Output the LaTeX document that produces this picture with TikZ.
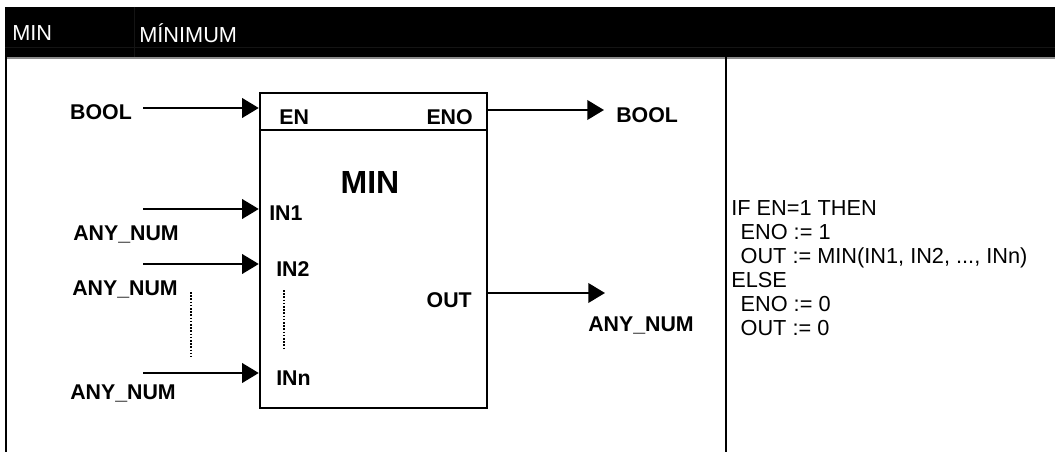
\documentclass[tikz,border=0pt]{standalone}
\usepackage{fontspec}
\setmainfont{Liberation Sans}
\usetikzlibrary{arrows.meta,positioning}
\definecolor{RuleGray}{HTML}{8C8C8C}
\definecolor{CellLine}{HTML}{141414}
\tikzset{
  lbl/.style={inner sep=0pt, font=\fontsize{16}{18}\selectfont\bfseries},
  hdr/.style={inner sep=0pt, anchor=west, text=white, font=\fontsize{16.3}{18}\selectfont},
  code/.style={inner sep=0pt, anchor=north west, align=left, font=\fontsize{16.3}{18}\selectfont},
  fblock/.style={draw, line width=1.8pt, minimum width=170.25pt, minimum height=236.25pt, inner sep=0pt},
  arr/.style={-{Triangle[length=12.5pt,width=14.5pt]}, line width=2pt},
  dots/.style={line width=1.6pt, dash pattern=on 1.2pt off 1.2pt},
  frame/.style={line width=1.6pt}
}

\begin{document}
\begin{tikzpicture}[x=0.75pt,y=-0.75pt]
\useasboundingbox (0,0) rectangle (1055,452);
% header bar
\fill[black] (5,7) rectangle (1055,57);
\draw[CellLine, line width=0.6pt] (5,47) -- (1055,47);
\draw[CellLine, line width=0.6pt] (134,7) -- (134,57);
\draw[RuleGray, line width=1.2pt] (5,58) -- (1055,58);
\node[hdr] (hname) at (12,33) {MIN};
\node[hdr] (htitle) at (139,33) {MÍNIMUM};
\draw[frame] (6,57) -- (6,452);
\draw[frame] (726,57) -- (726,452);

% function block
\node[fblock] (blk) at (373.5,250.5) {};
\draw[fblock] (blk.west |- 0,130) -- (blk.east |- 0,130);
\node[lbl, font=\fontsize{24}{26}\selectfont\bfseries] (fname) at (370,182) {MIN};
\node[lbl, anchor=west] (en) at (279,117) {EN};
\node[lbl, anchor=east] (eno) at (473,117) {ENO};
\node[lbl, anchor=west] (in1) at (269,213) {IN1};
\node[lbl, anchor=west] (in2) at (276,269) {IN2};
\node[lbl, anchor=west] (inn) at (276,378) {INn};
\node[lbl, anchor=east] (out) at (472,300) {OUT};
\draw[dots] (284,290) -- (284,348);

% inputs
\node[lbl] (boolin) at (101,112) {BOOL};
\coordinate (sEN) at (143,108);
\draw[arr] (sEN) -- (sEN -| blk.west);
\foreach \y/\n in {209/1,264/2,373/3}{
  \coordinate (s\n) at (143,\y);
  \draw[arr] (s\n) -- (s\n -| blk.west);
}
\node[lbl] (num1) at (126,234) {ANY\_NUM};
\node[lbl] (num2) at (125,289) {ANY\_NUM};
\node[lbl] (num3) at (123,393) {ANY\_NUM};
\draw[dots] (191,292) -- (191,357);

% outputs
\coordinate (tENO) at (604,110);
\coordinate (tOUT) at (605,293);
\draw[arr] (tENO -| blk.east) -- (tENO);
\draw[arr] (tOUT -| blk.east) -- (tOUT);
\node[lbl, anchor=west] (boolout) at (616,115) {BOOL};
\node[lbl] (numout) at (641,325) {ANY\_NUM};

% behaviour
\node[code] (st) at (731,200) {IF EN=1 THEN\\
  \hspace*{7pt}ENO := 1\\
  \hspace*{7pt}OUT := MIN(IN1, IN2, ..., INn)\\
  ELSE\\
  \hspace*{7pt}ENO := 0\\
  \hspace*{7pt}OUT := 0};
\end{tikzpicture}
\end{document}
